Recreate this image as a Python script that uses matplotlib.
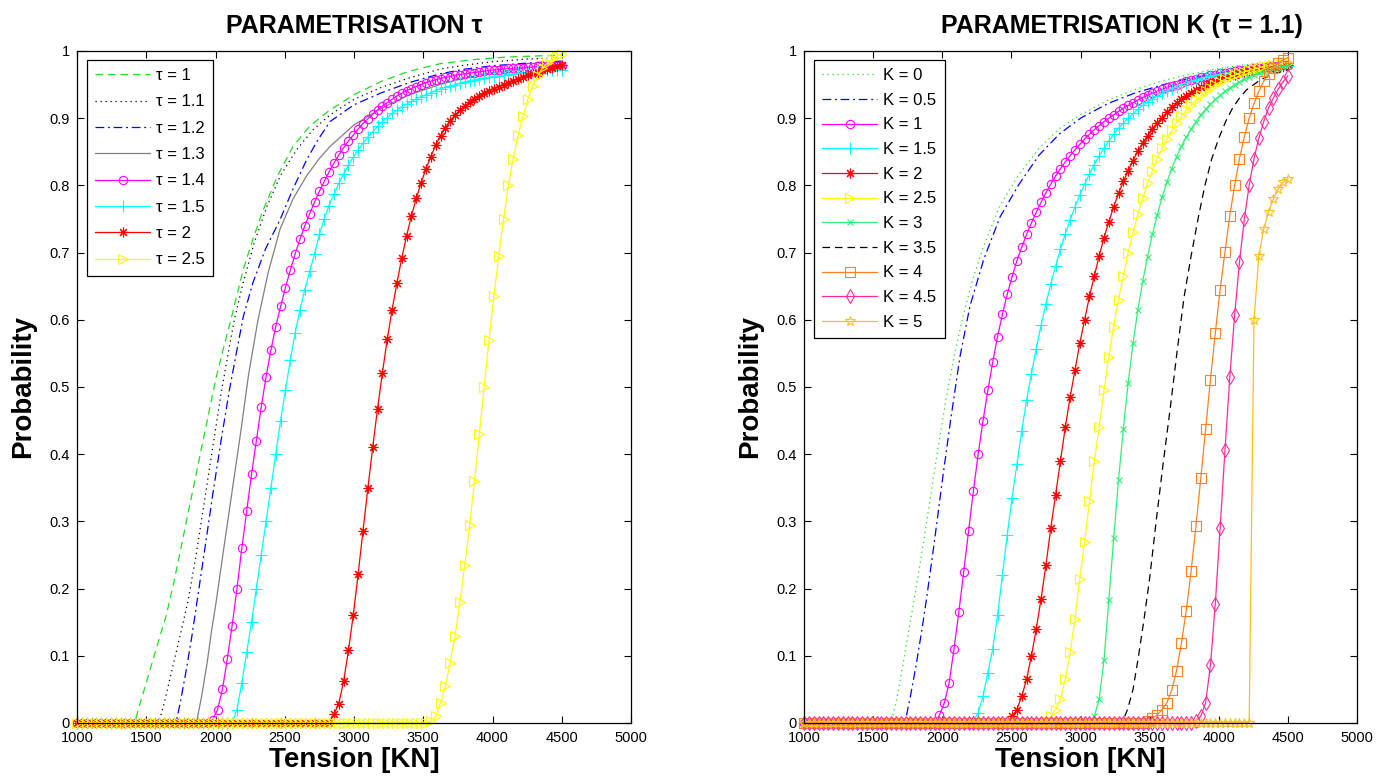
import numpy as np
import matplotlib.pyplot as plt
from matplotlib.ticker import FormatStrFormatter

plt.rcParams['font.family'] = ['Liberation Sans', 'DejaVu Sans']

# common tension grid (KN) used by the marker curves
tension = np.arange(1000, 4501, 35)

# ---- left panel : parametrisation tau ----
tau1_x = [1000, 1415, 1450, 1500, 1550, 1600, 1642, 1700, 1760, 1820, 1880, 1940, 2000, 2060, 2117,
          2199, 2270, 2343, 2450, 2560, 2680, 2812, 3000, 3200, 3400, 3620, 3850, 4100, 4500]
tau1_y = [0, 0, 0.025, 0.06, 0.095, 0.13, 0.158, 0.21, 0.27, 0.33, 0.39, 0.45, 0.51, 0.56, 0.605,
          0.674, 0.72, 0.763, 0.815, 0.858, 0.888, 0.91, 0.935, 0.955, 0.97, 0.981, 0.987, 0.991, 0.994]

tau11_x = [1000, 1590, 1630, 1670, 1710, 1750, 1800, 1860, 1920, 1980, 2040, 2100, 2141, 2200,
           2280, 2370, 2470, 2586, 2700, 2827, 3000, 3200, 3400, 3620, 3800, 4000, 4250, 4500]
tau11_y = [0, 0, 0.03, 0.065, 0.1, 0.135, 0.18, 0.25, 0.33, 0.41, 0.49, 0.56, 0.605, 0.655,
           0.715, 0.768, 0.815, 0.853, 0.882, 0.905, 0.928, 0.946, 0.96, 0.973, 0.979, 0.984, 0.988, 0.99]

tau12_x = [1000, 1715, 1750, 1790, 1830, 1861, 1920, 1980, 2040, 2100, 2150, 2201, 2270, 2360,
           2466, 2560, 2658, 2740, 2827, 3000, 3200, 3400, 3620, 3800, 4000, 4250, 4500]
tau12_y = [0, 0, 0.035, 0.08, 0.13, 0.173, 0.255, 0.34, 0.42, 0.495, 0.55, 0.605, 0.655, 0.705,
           0.749, 0.795, 0.838, 0.868, 0.895, 0.92, 0.938, 0.953, 0.966, 0.973, 0.978, 0.982, 0.985]

tau13_x = [1000, 1862, 1900, 1940, 1970, 2003, 2060, 2120, 2180, 2240, 2307, 2380, 2466, 2560,
           2660, 2750, 2827, 3000, 3200, 3400, 3620, 3800, 4000, 4250, 4500]
tau13_y = [0, 0, 0.04, 0.09, 0.135, 0.178, 0.26, 0.345, 0.43, 0.52, 0.6, 0.67, 0.735, 0.78,
           0.815, 0.84, 0.858, 0.89, 0.915, 0.935, 0.95, 0.96, 0.968, 0.975, 0.98]

# marker curves: values on the tension grid, last value at 4500, zero before
tau14 = [0.005, 0.02, 0.05, 0.095, 0.145, 0.2, 0.26, 0.315, 0.37, 0.42,
         0.47, 0.515, 0.555, 0.59, 0.62, 0.648, 0.674, 0.698, 0.72, 0.74,
         0.758, 0.775, 0.791, 0.806, 0.82, 0.833, 0.845, 0.856, 0.866, 0.875,
         0.884, 0.892, 0.899, 0.906, 0.912, 0.918, 0.923, 0.928, 0.933, 0.937,
         0.941, 0.944, 0.947, 0.95, 0.953, 0.955, 0.957, 0.959, 0.961, 0.962,
         0.964, 0.965, 0.966, 0.967, 0.968, 0.969, 0.97, 0.971, 0.972, 0.972,
         0.973, 0.974, 0.974, 0.975, 0.975, 0.976, 0.976, 0.977, 0.977, 0.977,
         0.978, 0.978, 0.978]
tau15 = [0.02, 0.06, 0.105, 0.15, 0.2, 0.25, 0.3, 0.35, 0.4, 0.45,
         0.495, 0.54, 0.58, 0.615, 0.645, 0.672, 0.698, 0.727, 0.75, 0.77,
         0.787, 0.803, 0.817, 0.83, 0.842, 0.853, 0.863, 0.872, 0.88, 0.888,
         0.895, 0.901, 0.907, 0.912, 0.917, 0.921, 0.925, 0.929, 0.932, 0.935,
         0.938, 0.941, 0.944, 0.946, 0.948, 0.95, 0.952, 0.954, 0.956, 0.957,
         0.959, 0.96, 0.961, 0.962, 0.963, 0.964, 0.965, 0.966, 0.967, 0.968,
         0.968, 0.969, 0.97, 0.97, 0.971, 0.971, 0.972, 0.972]
tau2 = [0.013, 0.029, 0.062, 0.108, 0.161, 0.222, 0.286, 0.349, 0.41, 0.468,
        0.521, 0.571, 0.615, 0.655, 0.692, 0.725, 0.755, 0.781, 0.804, 0.825,
        0.843, 0.86, 0.874, 0.886, 0.896, 0.905, 0.912, 0.918, 0.924, 0.929,
        0.933, 0.937, 0.941, 0.944, 0.947, 0.95, 0.953, 0.956, 0.959, 0.961,
        0.964, 0.966, 0.968, 0.971, 0.973, 0.975, 0.977, 0.979]
tau25 = [0.003, 0.01, 0.03, 0.055, 0.09, 0.13, 0.18, 0.235, 0.295, 0.36,
         0.43, 0.5, 0.57, 0.635, 0.695, 0.75, 0.8, 0.84, 0.875, 0.903,
         0.928, 0.948, 0.963, 0.974, 0.982, 0.988, 0.993, 0.996]

# ---- right panel : parametrisation K (tau = 1.1) ----
k0_x = [1000, 1630, 1670, 1710, 1750, 1792, 1850, 1910, 1970, 2030, 2090, 2150, 2220, 2300,
        2418, 2550, 2700, 2850, 3000, 3200, 3400, 3600, 3800, 4000, 4250, 4500]
k0_y = [0, 0, 0.035, 0.08, 0.128, 0.178, 0.25, 0.33, 0.41, 0.485, 0.55, 0.605, 0.66, 0.71,
        0.77, 0.815, 0.855, 0.885, 0.905, 0.927, 0.943, 0.956, 0.966, 0.974, 0.981, 0.986]

k05_x = [1000, 1730, 1770, 1810, 1850, 1885, 1940, 2000, 2060, 2128, 2200, 2300, 2418, 2550,
         2700, 2850, 3000, 3200, 3400, 3600, 3800, 4000, 4250, 4500]
k05_y = [0, 0, 0.04, 0.085, 0.135, 0.183, 0.265, 0.36, 0.45, 0.545, 0.62, 0.69, 0.753, 0.8,
         0.845, 0.877, 0.9, 0.922, 0.938, 0.95, 0.96, 0.967, 0.974, 0.98]

k1 = [0.012, 0.03, 0.06, 0.11, 0.165, 0.225, 0.285, 0.345, 0.4, 0.45,
      0.495, 0.537, 0.575, 0.608, 0.638, 0.664, 0.688, 0.708, 0.727, 0.744,
      0.76, 0.775, 0.789, 0.802, 0.814, 0.825, 0.835, 0.844, 0.853, 0.861,
      0.869, 0.876, 0.883, 0.889, 0.895, 0.9, 0.905, 0.91, 0.915, 0.919,
      0.923, 0.927, 0.931, 0.934, 0.937, 0.94, 0.943, 0.946, 0.948, 0.95,
      0.953, 0.955, 0.957, 0.959, 0.961, 0.962, 0.964, 0.965, 0.967, 0.968,
      0.969, 0.97, 0.971, 0.972, 0.973, 0.974, 0.975, 0.976, 0.977, 0.977,
      0.978, 0.979, 0.979]
k15 = [0.003, 0.015, 0.04, 0.075, 0.11, 0.16, 0.22, 0.28, 0.335, 0.385,
       0.435, 0.48, 0.52, 0.557, 0.592, 0.624, 0.653, 0.68, 0.705, 0.728,
       0.749, 0.768, 0.786, 0.802, 0.817, 0.831, 0.844, 0.855, 0.866, 0.876,
       0.885, 0.893, 0.9, 0.907, 0.913, 0.919, 0.924, 0.929, 0.933, 0.937,
       0.941, 0.944, 0.947, 0.95, 0.953, 0.955, 0.957, 0.959, 0.961, 0.963,
       0.964, 0.966, 0.967, 0.968, 0.969, 0.97, 0.971, 0.972, 0.973, 0.974,
       0.975, 0.975, 0.976, 0.977, 0.977, 0.978]
k2 = [0.01, 0.02, 0.04, 0.065, 0.1, 0.14, 0.185, 0.235, 0.29, 0.34,
      0.39, 0.44, 0.485, 0.525, 0.565, 0.6, 0.635, 0.665, 0.695, 0.722,
      0.746, 0.768, 0.788, 0.806, 0.822, 0.837, 0.851, 0.863, 0.874, 0.884,
      0.893, 0.901, 0.909, 0.916, 0.922, 0.928, 0.933, 0.938, 0.942, 0.946,
      0.95, 0.953, 0.956, 0.959, 0.961, 0.963, 0.965, 0.967, 0.969, 0.97,
      0.972, 0.973, 0.974, 0.975, 0.976, 0.977, 0.978, 0.979]
k25 = [0.003, 0.01, 0.02, 0.035, 0.065, 0.105, 0.155, 0.215, 0.27, 0.33,
       0.39, 0.44, 0.495, 0.545, 0.59, 0.63, 0.665, 0.7, 0.73, 0.757,
       0.781, 0.803, 0.822, 0.84, 0.855, 0.869, 0.882, 0.893, 0.903, 0.912,
       0.92, 0.927, 0.934, 0.94, 0.945, 0.95, 0.954, 0.958, 0.961, 0.964,
       0.967, 0.969, 0.971, 0.973, 0.975, 0.977, 0.978, 0.979, 0.98, 0.981,
       0.982]
k3 = [0.003, 0.01, 0.035, 0.094, 0.183, 0.275, 0.362, 0.438, 0.506, 0.565,
      0.615, 0.657, 0.694, 0.727, 0.756, 0.782, 0.805, 0.825, 0.843, 0.858,
      0.872, 0.884, 0.895, 0.905, 0.913, 0.921, 0.928, 0.934, 0.94, 0.945,
      0.95, 0.954, 0.958, 0.961, 0.964, 0.967, 0.969, 0.971, 0.973, 0.975,
      0.976, 0.977]

k35_x = [1000, 3300, 3340, 3380, 3420, 3460, 3500, 3550, 3600, 3650, 3700, 3750, 3800, 3850,
         3900, 3950, 4000, 4050, 4100, 4150, 4200, 4300, 4400, 4500]
k35_y = [0, 0, 0.02, 0.05, 0.1, 0.155, 0.215, 0.305, 0.39, 0.47, 0.555, 0.635, 0.695, 0.75,
         0.8, 0.84, 0.87, 0.895, 0.915, 0.93, 0.942, 0.957, 0.966, 0.972]

k4 = [0.003, 0.007, 0.012, 0.02, 0.03, 0.049, 0.078, 0.119, 0.167, 0.226,
      0.293, 0.364, 0.437, 0.511, 0.58, 0.645, 0.701, 0.755, 0.80, 0.84,
      0.872, 0.90, 0.922, 0.94, 0.955, 0.966, 0.975, 0.982, 0.987, 0.99]
k45 = [0.003, 0.01, 0.03, 0.086, 0.177, 0.29, 0.406, 0.515, 0.607, 0.686,
       0.75, 0.80, 0.84, 0.87, 0.895, 0.915, 0.93, 0.943, 0.954, 0.963]
k5 = [0.60, 0.695, 0.735, 0.76, 0.78, 0.795, 0.805, 0.81]


def pad(vals):
    # the curves sit at zero until they start to rise
    vals = np.asarray(vals, dtype=float)
    return np.concatenate([np.zeros(len(tension) - len(vals)), vals])


def line(ax, x, y, color, ls, label):
    ax.plot(x, y, color=color, linestyle=ls, lw=0.9, label=label, clip_on=False)


def marked(ax, vals, color, marker, label, ms=6):
    ax.plot(tension, pad(vals), color=color, lw=0.9, marker=marker, ms=ms, mew=0.8,
            mfc='none', mec=color, label=label, clip_on=False)


def style(ax, title, spacing, title_x=0.5):
    ax.set_xlim(1000, 5000)
    ax.set_ylim(0, 1)
    ax.set_xticks(np.arange(1000, 5001, 500))
    ax.set_yticks(np.arange(0, 1.01, 0.1))
    ax.yaxis.set_major_formatter(FormatStrFormatter('%g'))
    ax.tick_params(direction='in', top=True, right=True, length=5, width=0.8, labelsize=10.5)
    ax.tick_params(axis='x', pad=6)
    ax.tick_params(axis='y', pad=5)
    for s in ax.spines.values():
        s.set_linewidth(0.9)
    ax.set_title(title, fontsize=18, fontweight='bold', pad=13, x=title_x)
    ax.set_xlabel('Tension [KN]', fontsize=20, fontweight='bold', labelpad=1)
    ax.set_ylabel('Probability', fontsize=20, fontweight='bold', labelpad=10)
    leg = ax.legend(loc='upper left', bbox_to_anchor=(0.018, 0.987), borderaxespad=0,
                    fancybox=False, edgecolor='black', framealpha=1, fontsize=12,
                    handlelength=3.3, handletextpad=0.35, labelspacing=spacing,
                    borderpad=0.5)
    leg.get_frame().set_linewidth(0.9)


fig = plt.figure(figsize=(13.89, 7.81), dpi=100)
ax1 = fig.add_axes([77 / 1389, 58 / 781, 554 / 1389, 672 / 781])
ax2 = fig.add_axes([804 / 1389, 58 / 781, 553 / 1389, 672 / 781])

line(ax1, tau1_x, tau1_y, '#22dd22', (0, (6, 4)), r'τ = 1')
line(ax1, tau11_x, tau11_y, 'black', (0, (1, 3)), r'τ = 1.1')
line(ax1, tau12_x, tau12_y, '#0000ff', (0, (7, 3, 1.5, 3)), r'τ = 1.2')
line(ax1, tau13_x, tau13_y, '#808080', '-', r'τ = 1.3')
marked(ax1, tau14, '#ff00ff', 'o', r'τ = 1.4')
marked(ax1, tau15, '#00ffff', '+', r'τ = 1.5', ms=8)
marked(ax1, tau2, '#ff0000', (8, 2, 0), r'τ = 2', ms=7)
marked(ax1, tau25, '#ffff00', '>', r'τ = 2.5', ms=7)
style(ax1, 'PARAMETRISATION τ', 0.68)

line(ax2, k0_x, k0_y, '#22dd22', (0, (1, 3)), 'K = 0')
line(ax2, k05_x, k05_y, '#0000ff', (0, (7, 3, 1.5, 3)), 'K = 0.5')
marked(ax2, k1, '#ff00ff', 'o', 'K = 1')
marked(ax2, k15, '#00ffff', '+', 'K = 1.5', ms=8)
marked(ax2, k2, '#ff0000', (8, 2, 0), 'K = 2', ms=7)
marked(ax2, k25, '#ffff00', '>', 'K = 2.5', ms=7)
marked(ax2, k3, '#33ee77', 'x', 'K = 3', ms=5)
line(ax2, k35_x, k35_y, 'black', (0, (6, 4)), 'K = 3.5')
marked(ax2, k4, '#ff8020', 's', 'K = 4', ms=7)
marked(ax2, k45, '#ff2aa0', 'd', 'K = 4.5', ms=7)
marked(ax2, k5, '#ffbf1a', '*', 'K = 5', ms=7)
style(ax2, 'PARAMETRISATION K (τ = 1.1)', 0.58, title_x=0.575)

fig.savefig('out.png', dpi=100)
